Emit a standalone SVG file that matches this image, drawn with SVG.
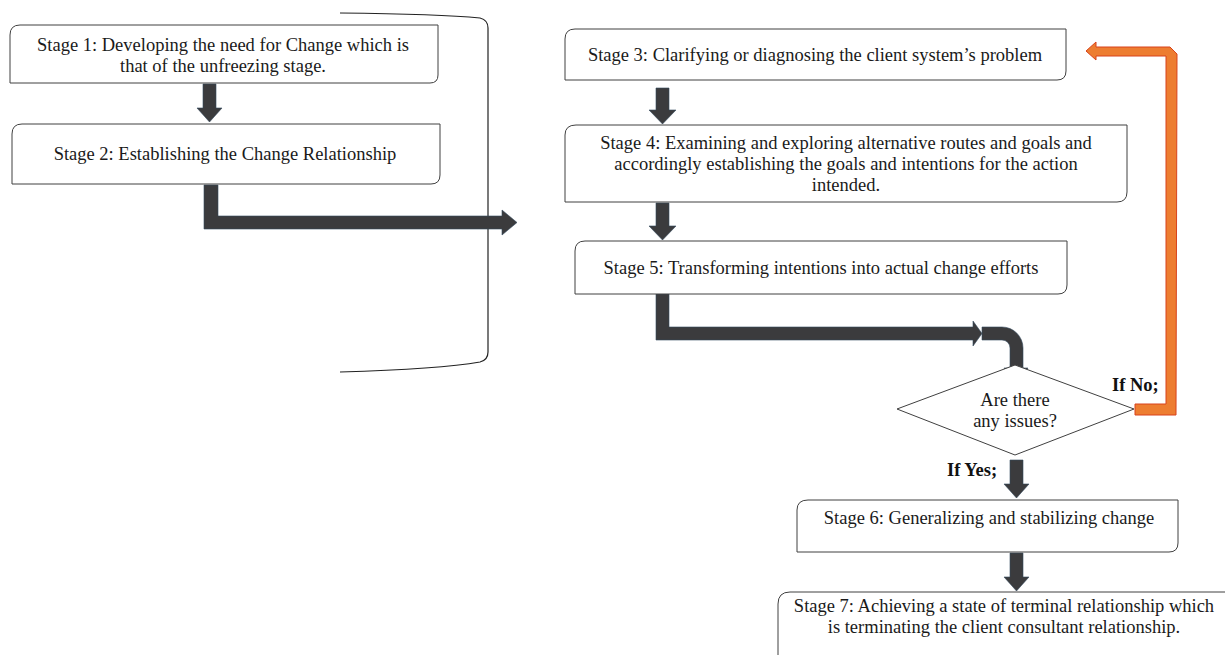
<svg xmlns="http://www.w3.org/2000/svg" width="1225" height="655" viewBox="0 0 1225 655">
<style>
.box{fill:#fff;stroke:#404040;stroke-width:1}
.t{font-family:"Liberation Serif","Times New Roman",serif;font-size:18.5px;fill:#1a1a1a;text-anchor:middle}
.b{font-family:"Liberation Serif","Times New Roman",serif;font-size:18.5px;font-weight:bold;fill:#111}
.arr{fill:#3b3b3d;stroke:#34495e;stroke-width:0.6}
.org{fill:#ED7D31;stroke:#D8431C;stroke-width:1}
.br{fill:none;stroke:#222;stroke-width:1.2}
</style>
<rect width="1225" height="655" fill="#fff"/>
<g id="bracket">
<path class="br" d="M340,13 Q440,14 480,18 Q488,20 488,28 L488,352 Q488,360 480,362 Q440,369 340,372"/>
</g>
<g id="connectors">
<path class="arr" d="M203,84 L216,84 L216,108 L222,108 L209.5,122 L197,108 L203,108 Z"/>
<path class="arr" d="M204,185 L218,185 L218,216 L502,216 L502,210 L517,222.5 L502,235 L502,229 L204,229 Z"/>
<path class="arr" d="M656,88 L669,88 L669,110 L676,110 L662.5,124 L649,110 L656,110 Z"/>
<path class="arr" d="M656,203 L669,203 L669,226 L676,226 L662.5,240 L649,226 L656,226 Z"/>
<path class="arr" d="M656,294 L669,294 L669,327 L973,327 L973,321 L982,333.5 L973,346 L973,340 L656,340 Z"/>
<path class="arr" d="M982,327 L1002,327 A21,21 0 0 1 1023,348 L1023,368 L1028,368 L1016,383 L1004,368 L1010,368 L1010,348 A8,8 0 0 0 1002,340 L982,340 Z"/>
<path class="arr" d="M1010,460 L1023,460 L1023,484 L1029,484 L1016.5,498 L1004,484 L1010,484 Z"/>
<path class="arr" d="M1010,553 L1023,553 L1023,577 L1029,577 L1016.5,591 L1004,577 L1010,577 Z"/>
<path class="org" d="M1135,404 L1166,404 L1166,56 L1096,56 L1096,60 L1086,51 L1096,42 L1096,47 L1170,47 L1177,54 L1176,415 L1135,415 Z"/>
</g>
<g id="stage1">
<path class="box" d="M20,25 L438,25 L438,75 Q438,83 430,83 L10,83 L10,35 Q10,25 20,25 Z"/>
<text class="t" x="223" y="51">Stage 1: Developing the need for Change which is</text>
<text class="t" x="223" y="72">that of the unfreezing stage.</text>
</g>
<g id="stage2">
<path class="box" d="M22,124 L440,124 L440,175 Q440,184 431,184 L12,184 L12,134 Q12,124 22,124 Z"/>
<text class="t" x="225" y="160">Stage 2: Establishing the Change Relationship</text>
</g>
<g id="stage3">
<path class="box" d="M575,29 L1066,29 L1066,71 Q1066,80 1057,80 L565,80 L565,39 Q565,29 575,29 Z"/>
<text class="t" x="815" y="61">Stage 3: Clarifying or diagnosing the client system’s problem</text>
</g>
<g id="stage4">
<path class="box" d="M576,125 L1127,125 L1127,192 Q1127,202 1117,202 L565,202 L565,135 Q565,125 576,125 Z"/>
<text class="t" x="846" y="149">Stage 4: Examining and exploring alternative routes and goals and</text>
<text class="t" x="846" y="170">accordingly establishing the goals and intentions for the action</text>
<text class="t" x="846" y="191">intended.</text>
</g>
<g id="stage5">
<path class="box" d="M585,241 L1067,241 L1067,285 Q1067,294 1058,294 L575,294 L575,251 Q575,241 585,241 Z"/>
<text class="t" x="821" y="274">Stage 5: Transforming intentions into actual change efforts</text>
</g>
<g id="decision">
<path class="box" d="M1015,365 L1134,409 L1015,455 L897,409 Z"/>
<text class="t" x="1015" y="406">Are there</text>
<text class="t" x="1015" y="427">any issues?</text>
</g>
<text class="b" x="1112" y="391">If No;</text>
<text class="b" x="947" y="476">If Yes;</text>
<g id="stage6">
<path class="box" d="M808,500 L1178,500 L1178,543 Q1178,552 1169,552 L797,552 L797,510 Q797,500 808,500 Z"/>
<text class="t" x="989" y="524">Stage 6: Generalizing and stabilizing change</text>
</g>
<g id="stage7">
<path class="box" d="M1230,592 L790,592 Q778,592 778,604 L778,660"/>
<text class="t" x="1004" y="612">Stage 7: Achieving a state of terminal relationship which</text>
<text class="t" x="1004" y="633">is terminating the client consultant relationship.</text>
</g>
</svg>
